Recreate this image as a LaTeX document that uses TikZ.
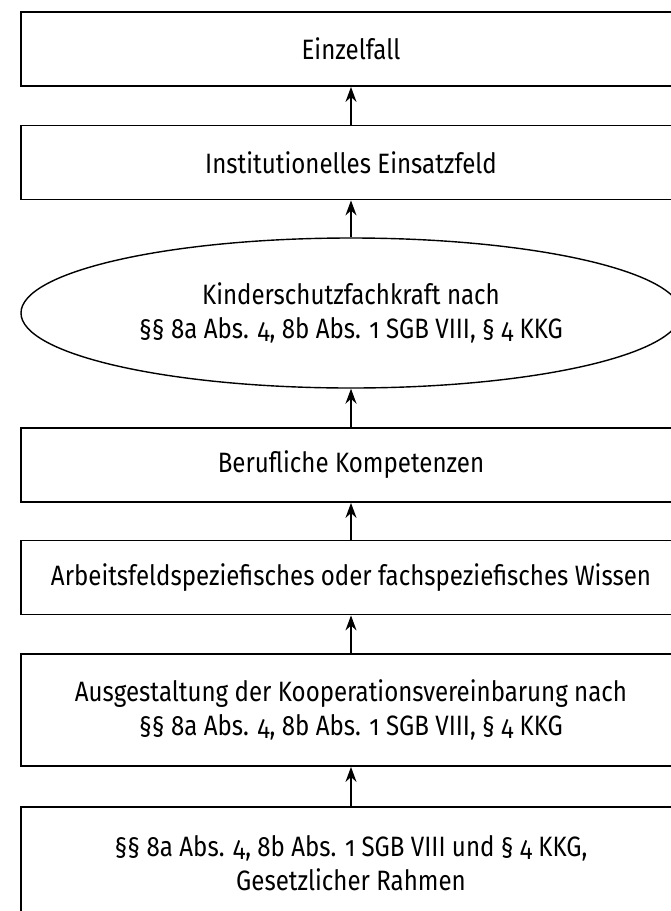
\documentclass[tikz,border=0pt]{standalone}
\usepackage{fontspec}
\setmainfont{Fira Sans}[Numbers=OldStyle,FakeStretch=0.86]
\usetikzlibrary{shapes.geometric,arrows.meta}

\begin{document}
\begin{tikzpicture}[x=1pt,y=-1pt,->,>={Stealth[length=15pt,width=11pt]},line width=1.7pt]
			\tikzstyle{ebene} = [rectangle,draw,line width=1.8pt,minimum width=660pt,minimum height=74pt,align=center,inner sep=0pt,font=\fontsize{28}{34}\selectfont]
			\tikzstyle{rolle} = [ellipse,draw,line width=1.4pt,minimum width=660pt,minimum height=150pt,align=center,inner sep=0pt,font=\fontsize{28}{34}\selectfont]
			
			\useasboundingbox (0,0) rectangle (671,911);
			\clip (0,0) rectangle (671,911);
			
			\node[ebene] (fall) at (351,49) {Einzelfall};
			\node[ebene] (feld) at (351,162.5) {Institutionelles Einsatzfeld};
			\node[rolle] (iseF) at (351,313) {Kinderschutzfachkraft nach\\§§ 8a Abs. 4, 8b Abs. 1 SGB VIII, § 4 KKG};
			\node[ebene] (komp) at (351,465) {Berufliche Kompetenzen};
			\node[ebene] (wiss) at (351,577.5) {Arbeitsfeldspeziefisches oder fachspeziefisches Wissen};
			\node[ebene,minimum height=112pt] (koop) at (351,710) {Ausgestaltung der Kooperationsvereinbarung nach\\§§ 8a Abs. 4, 8b Abs. 1 SGB VIII, § 4 KKG};
			\node[ebene,minimum height=112pt] (recht) at (351,863) {§§ 8a Abs. 4, 8b Abs. 1 SGB VIII und § 4 KKG,\\Gesetzlicher Rahmen};
			
			\path (feld) edge (fall);
			\path (iseF) edge (feld);
			\path (komp) edge (iseF);
			\path (wiss) edge (komp);
			\path (koop) edge (wiss);
			\path (recht) edge (koop);
		\end{tikzpicture}
\end{document}
